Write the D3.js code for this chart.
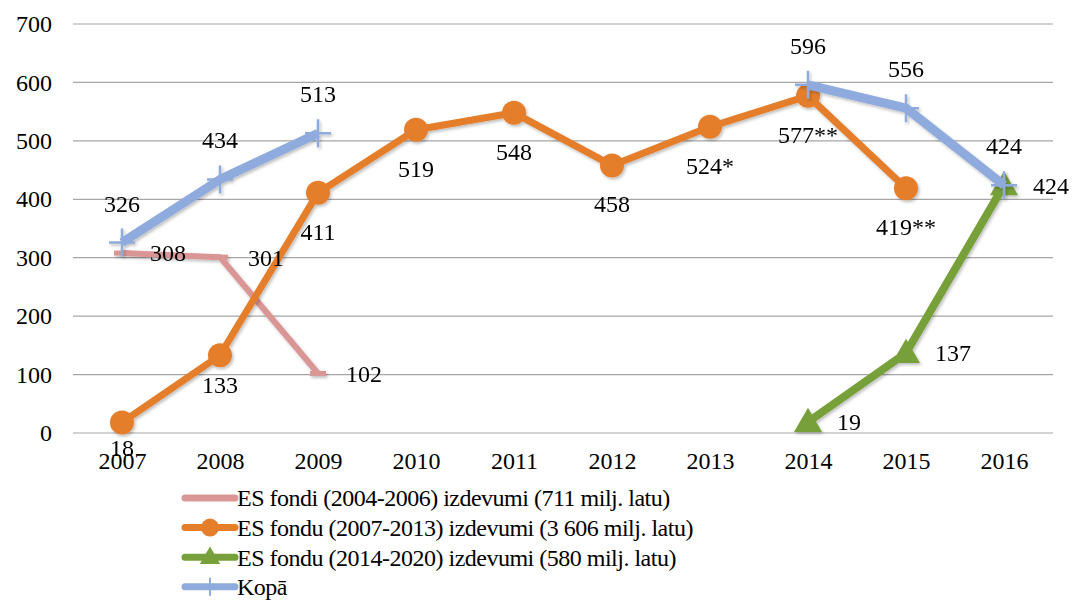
<!DOCTYPE html>
<html>
<head>
<meta charset="utf-8">
<script src="https://cdn.jsdelivr.net/npm/d3@7"></script>
<style>
  body { margin: 0; background: #fff; }
</style>
</head>
<body>
<div id="plot"></div>
<script>
// years on the category axis
const years = ["2007", "2008", "2009", "2010", "2011", "2012", "2013", "2014", "2015", "2016"];
const yTicks = [0, 100, 200, 300, 400, 500, 600, 700];

// series values (null = no value that year)
const fondi0406 = [308, 301, 102, null, null, null, null, null, null, null];
const fondi0713 = [18, 133, 411, 519, 548, 458, 524, 577, 419, null];
const fondi1420 = [null, null, null, null, null, null, null, 19, 137, 424];
const kopa = [326, 434, 513, null, null, null, null, 596, 556, 424];

// label texts where they differ from the value
const fondi0713Labels = ["18", "133", "411", "519", "548", "458", "524*", "577**", "419**", ""];

const seriesNames = [
  "ES fondi (2004-2006) izdevumi (711 milj. latu)",
  "ES fondu (2007-2013) izdevumi (3 606 milj. latu)",
  "ES fondu (2014-2020) izdevumi (580 milj. latu)",
  "Kopā"
];

const width = 1073, height = 605;
const fontSize = 24;
const serif = "'Liberation Serif', 'Times New Roman', Tinos, 'DejaVu Serif', serif";

const svg = d3.select("#plot").append("svg")
  .attr("width", width)
  .attr("height", height)
  .attr("font-family", serif);

// soft shadow like the office chart
const defs = svg.append("defs");
defs.append("filter")
  .attr("id", "shadow")
  .attr("x", "-20%").attr("y", "-20%").attr("width", "140%").attr("height", "140%")
  .append("feDropShadow")
  .attr("dx", 1.5).attr("dy", 2).attr("stdDeviation", 1.5)
  .attr("flood-color", "#000").attr("flood-opacity", 0.25);

const x = d3.scalePoint()
  .domain(years)
  .range([73, 1053])
  .padding(0.5);

const y = d3.scaleLinear()
  .domain([0, 700])
  .range([433, 24]);

// gridlines
svg.append("g")
  .selectAll("line")
  .data(yTicks)
  .join("line")
  .attr("x1", 73)
  .attr("x2", 1053)
  .attr("y1", d => y(d))
  .attr("y2", d => y(d))
  .attr("stroke", "#a6a6a6")
  .attr("stroke-width", 1.2);

// y axis labels
const yAxis = svg.append("g")
  .attr("transform", "translate(52,0)")
  .call(d3.axisLeft(y).tickValues(yTicks).tickSize(0).tickPadding(0));
yAxis.select(".domain").remove();
yAxis.attr("font-family", serif).attr("font-size", fontSize);
yAxis.selectAll("text").attr("fill", "#000");

// x axis labels
const xAxis = svg.append("g")
  .attr("transform", "translate(0,452)")
  .call(d3.axisBottom(x).tickSize(0).tickPadding(0));
xAxis.select(".domain").remove();
xAxis.attr("font-family", serif).attr("font-size", fontSize);
xAxis.selectAll("text").attr("dy", "0.71em").attr("fill", "#000");

const line = d3.line()
  .defined(d => d.v != null)
  .x(d => x(d.year))
  .y(d => y(d.v));

function toPoints(values) {
  return values.map((v, i) => ({ year: years[i], v: v, i: i }));
}

const colors = ["#d99694", "#e57e2b", "#77a03b", "#8faadc"];

// --- series 1: ES fondi 2004-2006 (dash markers)
const g1 = svg.append("g").attr("filter", "url(#shadow)");
const p1 = toPoints(fondi0406);
g1.append("path")
  .attr("d", line(p1))
  .attr("fill", "none")
  .attr("stroke", colors[0])
  .attr("stroke-width", 6)
  .attr("stroke-linejoin", "round");
g1.selectAll("line.mk")
  .data(p1.filter(d => d.v != null))
  .join("line")
  .attr("class", "mk")
  .attr("x1", d => x(d.year) - 8)
  .attr("x2", d => x(d.year) + 8)
  .attr("y1", d => y(d.v))
  .attr("y2", d => y(d.v))
  .attr("stroke", colors[0])
  .attr("stroke-width", 5);

// --- series 2: ES fondu 2007-2013 (circle markers)
const g2 = svg.append("g").attr("filter", "url(#shadow)");
const p2 = toPoints(fondi0713);
g2.append("path")
  .attr("d", line(p2))
  .attr("fill", "none")
  .attr("stroke", colors[1])
  .attr("stroke-width", 7)
  .attr("stroke-linejoin", "round");
g2.selectAll("circle")
  .data(p2.filter(d => d.v != null))
  .join("circle")
  .attr("cx", d => x(d.year))
  .attr("cy", d => y(d.v))
  .attr("r", 12)
  .attr("fill", colors[1]);

// --- series 3: ES fondu 2014-2020 (triangle markers)
const g3 = svg.append("g").attr("filter", "url(#shadow)");
const p3 = toPoints(fondi1420);
g3.append("path")
  .attr("d", line(p3))
  .attr("fill", "none")
  .attr("stroke", colors[2])
  .attr("stroke-width", 8)
  .attr("stroke-linejoin", "round");
g3.selectAll("path.tri")
  .data(p3.filter(d => d.v != null))
  .join("path")
  .attr("class", "tri")
  .attr("d", d3.symbol().type(d3.symbolTriangle).size(340))
  .attr("transform", d => `translate(${x(d.year)},${y(d.v) + 2})`)
  .attr("fill", colors[2]);

// --- series 4: Kopā (plus markers)
const g4 = svg.append("g").attr("filter", "url(#shadow)");
const p4 = toPoints(kopa);
g4.append("path")
  .attr("d", line(p4))
  .attr("fill", "none")
  .attr("stroke", colors[3])
  .attr("stroke-width", 9)
  .attr("stroke-linejoin", "round");
g4.selectAll("path.plus")
  .data(p4.filter(d => d.v != null))
  .join("path")
  .attr("class", "plus")
  .attr("d", "M-13,0H13M0,-14V14")
  .attr("transform", d => `translate(${x(d.year)},${y(d.v)})`)
  .attr("stroke", colors[3])
  .attr("stroke-width", 2.5)
  .attr("fill", "none");

// --- data labels
const labels = svg.append("g")
  .attr("font-family", serif)
  .attr("font-size", fontSize);

// right of point
labels.selectAll("text.l1")
  .data(p1.filter(d => d.v != null))
  .join("text")
  .attr("class", "l1")
  .attr("x", d => x(d.year) + 28)
  .attr("y", d => y(d.v))
  .attr("dy", "0.35em")
  .text(d => d.v);

// below point
const belowOffset = { "2007": 34, "2008": 38 };
labels.selectAll("text.l2")
  .data(p2.filter(d => d.v != null))
  .join("text")
  .attr("class", "l2")
  .attr("x", d => x(d.year))
  .attr("y", d => y(d.v) + (belowOffset[d.year] || 47))
  .attr("text-anchor", "middle")
  .text(d => fondi0713Labels[d.i]);

// right of point
labels.selectAll("text.l3")
  .data(p3.filter(d => d.v != null))
  .join("text")
  .attr("class", "l3")
  .attr("x", d => x(d.year) + 29)
  .attr("y", d => y(d.v))
  .attr("dy", "0.35em")
  .text(d => d.v);

// above point
labels.selectAll("text.l4")
  .data(p4.filter(d => d.v != null))
  .join("text")
  .attr("class", "l4")
  .attr("x", d => x(d.year))
  .attr("y", d => y(d.v) - 31)
  .attr("text-anchor", "middle")
  .text(d => d.v);

// --- legend
const legend = svg.append("g").attr("transform", "translate(185,498)");
const rows = legend.selectAll("g")
  .data(seriesNames)
  .join("g")
  .attr("transform", (d, i) => `translate(0,${i * 29.6})`);

rows.append("line")
  .attr("x1", 0).attr("x2", 50)
  .attr("stroke", (d, i) => colors[i])
  .attr("stroke-width", 7)
  .attr("stroke-linecap", "round");

rows.each(function(d, i) {
  const r = d3.select(this);
  if (i === 0) {
    return;
  } else if (i === 1) {
    r.append("circle").attr("cx", 25).attr("r", 9).attr("fill", colors[1]);
  } else if (i === 2) {
    r.append("path")
      .attr("d", d3.symbol().type(d3.symbolTriangle).size(180))
      .attr("transform", "translate(25,1)")
      .attr("fill", colors[2]);
  } else {
    r.append("path")
      .attr("d", "M-8,0H8M0,-9V9")
      .attr("transform", "translate(25,0)")
      .attr("stroke", colors[3])
      .attr("stroke-width", 2);
  }
});

rows.append("text")
  .attr("x", 52)
  .attr("dy", "0.35em")
  .attr("font-family", serif)
  .attr("font-size", fontSize)
  .attr("letter-spacing", "-0.5px")
  .text(d => d);
</script>
</body>
</html>
